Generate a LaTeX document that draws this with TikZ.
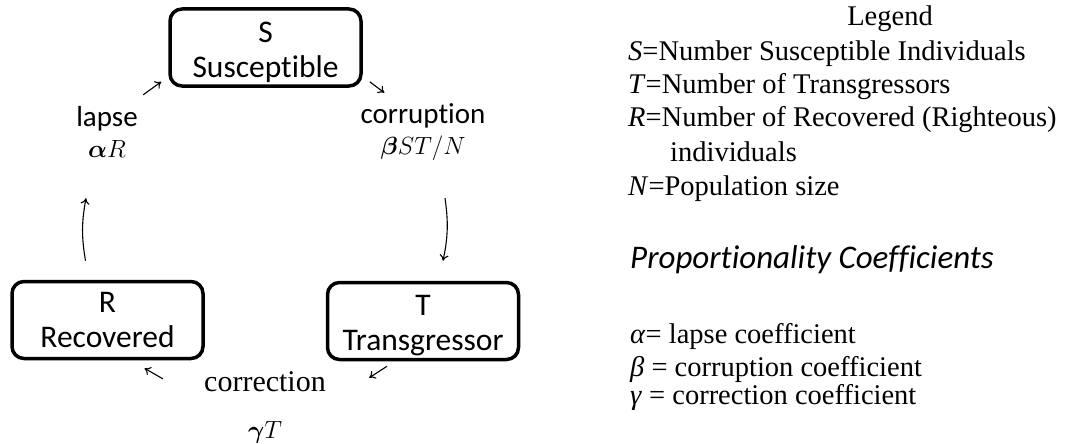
\documentclass[tikz,border=0pt]{standalone}
\usepackage{amsmath}
\usepackage{bm}
\usepackage{fontspec}
\setmainfont{Liberation Serif}
\newfontfamily\calibri[Ligatures=NoCommon]{Carlito}
\usetikzlibrary{arrows.meta}
\tikzset{
  compartment/.style={draw, line width=3.5pt, rounded corners=12pt, minimum width=191pt, minimum height=77pt, inner sep=0pt, align=center, font=\calibri\fontsize{31.5}{35}\selectfont},
  rate/.style={minimum width=120pt, minimum height=76pt, inner sep=0pt, align=center, font=\calibri\fontsize{29}{31}\selectfont},
  legend/.style={inner sep=0pt, font=\fontsize{28.5}{34}\selectfont},
  flow/.style={-{To[length=6pt,width=9pt]}, line width=1.1pt}
}
\begin{document}
\begin{tikzpicture}[x=1pt, y=-1pt]
  \useasboundingbox (0,0) rectangle (1076,444);
  % compartments
  \node[compartment] (S) at (265.5,47.5) {\rule{0pt}{30pt}S\\Susceptible};
  \node[compartment] (R) at (107.5,320) {R\\Recovered};
  \node[compartment] (T) at (423,321) {\rule{0pt}{30pt}T\\Transgressor};
  % transition rates
  \node[rate] (lapse) at (107,132) {lapse\\$\bm{\alpha}R$};
  \node[rate] (corruption) at (423,132) {corruption\\$\bm{\beta}ST/N$};
  \node[rate, minimum width=190pt, font=\fontsize{30}{47}\selectfont] (correction) at (265,407) {correction\\$\bm{\gamma}T$};
  % flows
  \draw[flow] ([shift={(7,-6)}]S.south east) -- ([shift={(24,-1)}]corruption.north west);
  \draw[flow] ([shift={(22,28)}]corruption.south) to[bend left=10] ([shift={(20,-20)}]T.north);
  \draw[flow] ([shift={(-36,5)}]T.south) -- ([shift={(9,9)}]correction.north east);
  \draw[flow] ([shift={(-7,10)}]correction.north west) -- ([shift={(37,8)}]R.south);
  \draw[flow] ([shift={(-22,-19)}]R.north) to[bend left=10] ([shift={(-21,28)}]lapse.south);
  \draw[flow] ([shift={(-24,1)}]lapse.north east) -- ([shift={(-7,-6)}]S.south west);
  % legend
  \node[legend, anchor=base] (title) at (890,26) {Legend};
  \node[legend, anchor=base west] (defS) at (628,60) {\textit{S}=Number Susceptible Individuals};
  \node[legend, anchor=base west] (defT) at (628,93) {\textit{T}=Number of Transgressors};
  \node[legend, anchor=base west] (defR) at (628,126) {\textit{R}=Number of Recovered (Righteous)};
  \node[legend, anchor=base west] (defRb) at (670,161) {individuals};
  \node[legend, anchor=base west] (defN) at (628,195) {\textit{N}=Population size};
  % coefficients
  \node[anchor=base west, inner sep=0pt, font=\calibri\itshape\fontsize{33}{36}\selectfont] (coeff) at (630,268) {Proportionality Coefficients};
  \node[legend, anchor=base west] (alpha) at (630,343) {\textit{α}= lapse coefficient};
  \node[legend, anchor=base west] (beta) at (630,376) {\textit{β} = corruption coefficient};
  \node[legend, anchor=base west] (gamma) at (630,404) {\textit{γ} = correction coefficient};
\end{tikzpicture}
\end{document}
